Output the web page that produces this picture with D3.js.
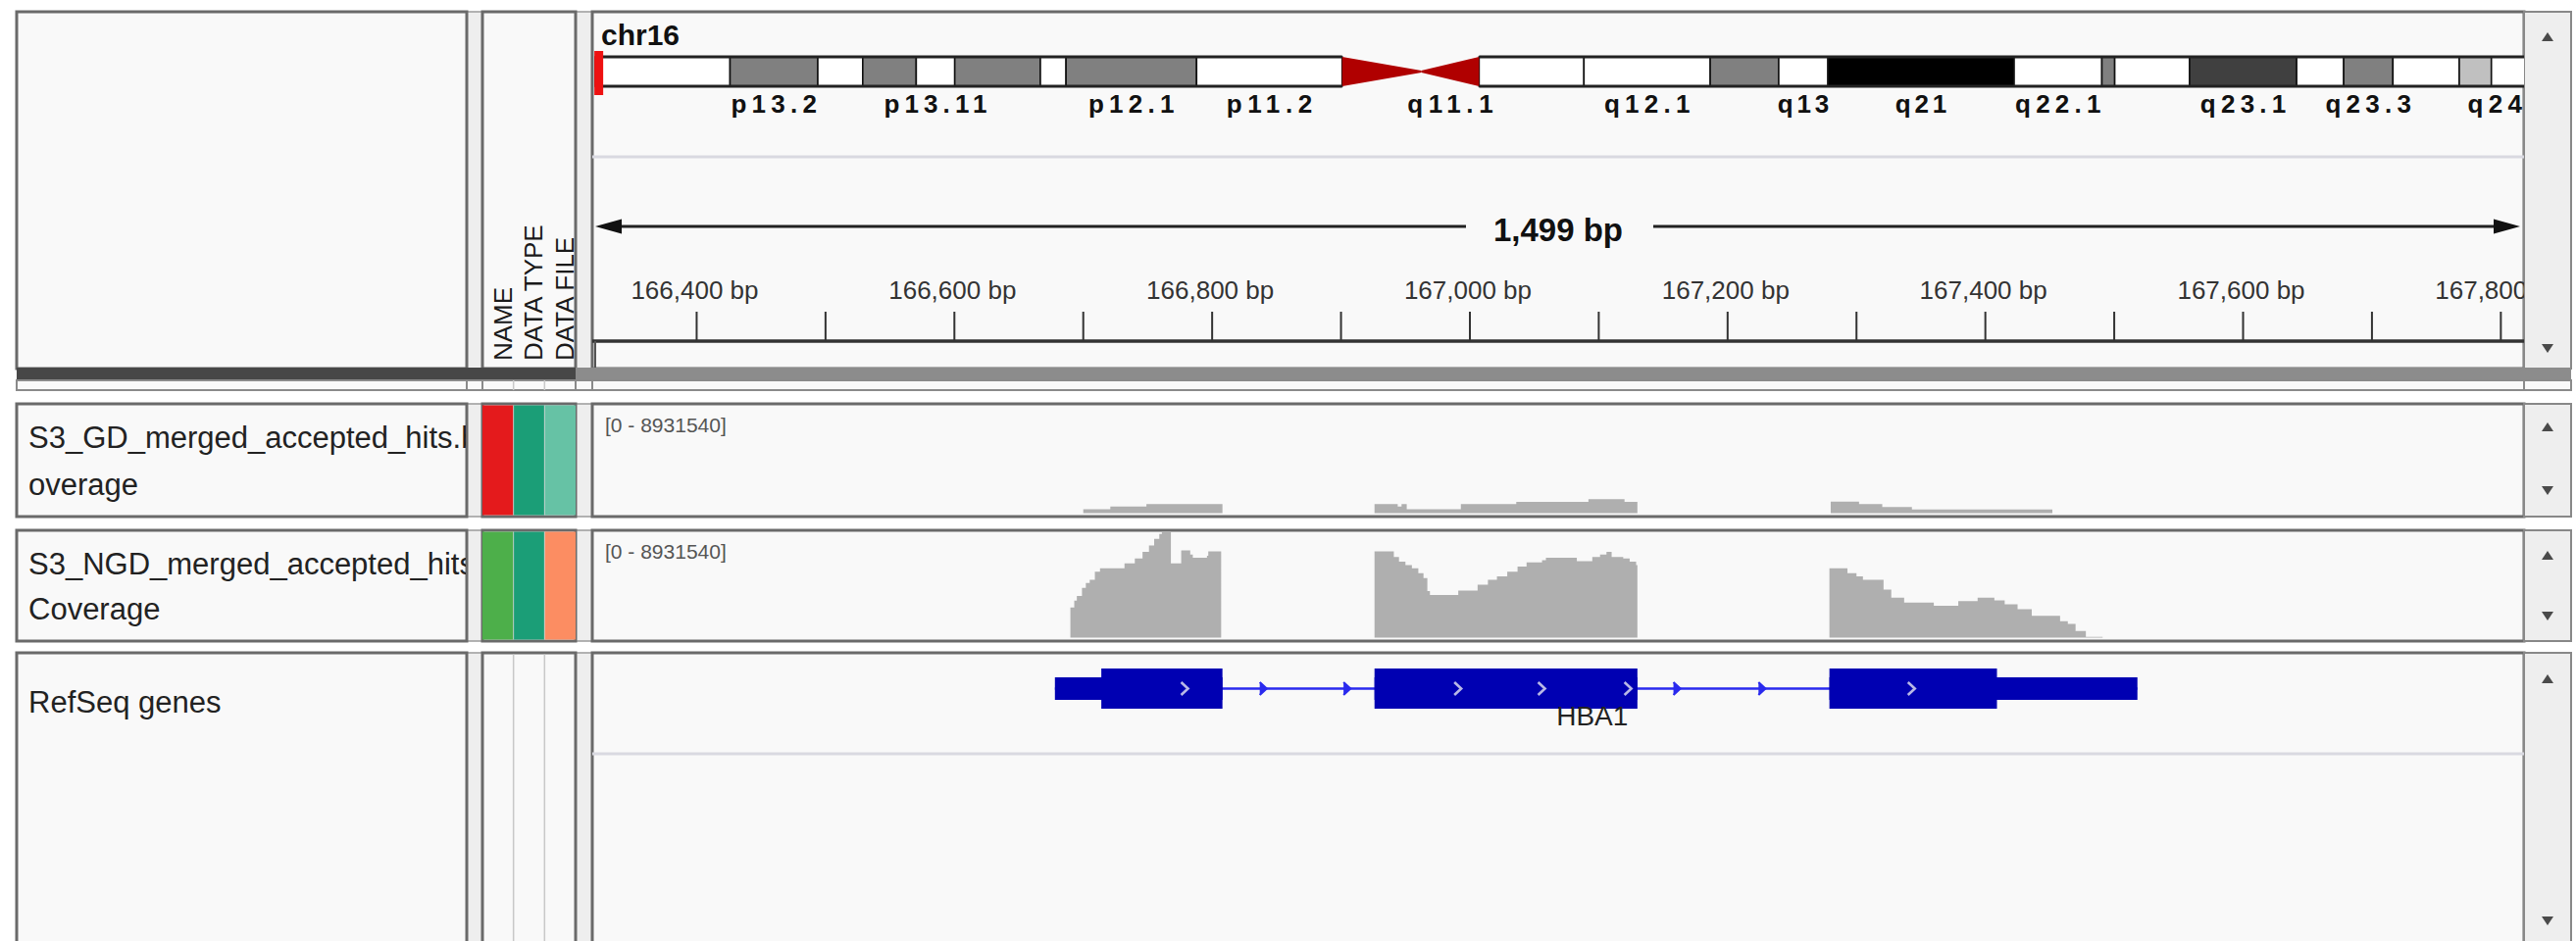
<!DOCTYPE html>
<html>
<head>
<meta charset="utf-8">
<script src="https://cdn.jsdelivr.net/npm/d3@7"></script>
<style>
  body { margin: 0; background: #ffffff; }
  text { font-family: "Liberation Sans", Arial, Helvetica, sans-serif; }
</style>
</head>
<body>
<div id="igv"></div>
<script>
// ---- data ----
const chromName = "chr16";
const chromLength = 90.4; // Mb
const bandNames  = ["p13.3","p13.2","p13.13","p13.12","p13.11","p12.3","p12.2","p12.1","p11.2","p11.1","q11.1","q11.2","q12.1","q12.2","q13","q21","q22.1","q22.2","q22.3","q23.1","q23.2","q23.3","q24.1","q24.2","q24.3"];
const bandStarts = [0, 6.3, 10.4, 12.5, 15.0, 16.8, 20.8, 22.0, 28.1, 34.9, 38.6, 41.3, 46.2, 52.1, 55.3, 57.6, 66.3, 70.4, 71.0, 74.5, 79.5, 81.7, 84.0, 87.1, 88.6];
const bandEnds   = [6.3, 10.4, 12.5, 15.0, 16.8, 20.8, 22.0, 28.1, 34.9, 38.6, 41.3, 46.2, 52.1, 55.3, 57.6, 66.3, 70.4, 71.0, 74.5, 79.5, 81.7, 84.0, 87.1, 88.6, 90.4];
const bandStains = ["gneg","gpos50","gneg","gpos50","gneg","gpos50","gneg","gpos50","gneg","acen","acen","gneg","gneg","gpos50","gneg","gpos100","gneg","gpos50","gneg","gpos75","gneg","gpos50","gneg","gpos25","gneg"];
const labeledBands = ["p13.2","p13.11","p12.1","p11.2","q11.1","q12.1","q13","q21","q22.1","q23.1","q23.3","q24.3"];

const viewStart = 166319, viewEnd = 167818;
const tickStep = 100, labelStep = 200;

const attrHeaders = ["NAME", "DATA TYPE", "DATA FILE"];
const nameLines = [
  ["S3_GD_merged_accepted_hits.bam C", "overage"],
  ["S3_NGD_merged_accepted_hits.bam ", "Coverage"],
  ["RefSeq genes"]
];
const attrColors = [
  ["#e41a1c", "#1b9e77", "#66c2a5"],
  ["#4daf4a", "#1b9e77", "#fc8d62"],
  [null, null, null]
];
const dataMax = 8931540;

// coverage: step positions (bp) and read depth
const gdPos = [166700,166721,166749,166808,166926,166944,166947,166951,166993,167036,167092,167120,167130,167280,167302,167320,167343,167452];
const gdVal = [330000,550000,770000,0,770000,550000,770000,330000,770000,960000,1180000,960000,0,980000,770000,520000,310000,0];

const ngdPos = [166690,166693,166695,166699,166702,166705,166709,166713,166732,166740,166746,166751,166755,166759,166761,166768,166776,166783,166785,166796,166797,166807,
  166926,166941,166945,166950,166955,166960,166964,166967,166969,166991,167006,167014,167021,167029,167037,167044,167056,167059,167083,167095,167101,167106,167110,167119,167124,167129,167130,
  167279,167293,167300,167305,167321,167327,167337,167360,167379,167394,167407,167415,167425,167436,167458,167464,167470,167478,167491];
const ngdVal = [2540000,3120000,3510000,4190000,4610000,4880000,5570000,5850000,6260000,6670000,7230000,7770000,8330000,8740000,8930000,6260000,7360000,7000000,6730000,6900000,7280000,0,
  7280000,6810000,6400000,6120000,5850000,5430000,5020000,3920000,3590000,3970000,4470000,4880000,5160000,5570000,5990000,6340000,6530000,6730000,6450000,6810000,7000000,7230000,6810000,6670000,6400000,6120000,0,
  5850000,5430000,5160000,4880000,4050000,3370000,2950000,2680000,3090000,3370000,3140000,2810000,2400000,1850000,1380000,1160000,550000,60000,0];

// RefSeq gene
const geneName = "HBA1";
const txStart = 166678, txEnd = 167518, cdsStart = 166714, cdsEnd = 167409;
const exonStarts = [166678, 166926, 167279];
const exonEnds   = [166808, 167130, 167518];
const strandArrowsBp = [166779, 166840, 166905, 166991, 167056, 167123, 167161, 167227, 167343];

// ---- layout ----
const W = 2627, H = 960;
const cols = { name: [17, 476], attr: [492, 587], data: [604, 2574], scroll: [2574, 2622] };
const rows = [
  { y0: 12, y1: 376 },
  { y0: 412, y1: 527 },
  { y0: 541, y1: 654 },
  { y0: 666, y1: 975 }
];
const panelFill = "#f9f9f9", borderCol = "#6a6a6a";

const svg = d3.select("#igv").append("svg").attr("width", W).attr("height", H);
svg.append("rect").attr("width", W).attr("height", H).attr("fill", "#ffffff");

const defs = svg.append("defs");
defs.append("clipPath").attr("id", "clipData")
  .append("rect").attr("x", cols.data[0]).attr("y", 0).attr("width", cols.data[1] - cols.data[0]).attr("height", H);
defs.append("clipPath").attr("id", "clipName")
  .append("rect").attr("x", cols.name[0]).attr("y", 0).attr("width", cols.name[1] - cols.name[0] - 1).attr("height", H);

function box(g, x0, x1, y0, y1, fill, stroke, sw) {
  g.append("rect").attr("x", x0).attr("y", y0).attr("width", x1 - x0).attr("height", y1 - y0)
    .attr("fill", fill).attr("stroke", stroke || "none").attr("stroke-width", sw || 0);
}

const frame = svg.append("g");
rows.forEach(function (r) {
  box(frame, cols.name[1], cols.attr[0], r.y0, r.y1, "#eeeeee", "#9a9a9a", 1.5);
  box(frame, cols.attr[1], cols.data[0], r.y0, r.y1, "#eeeeee", "#9a9a9a", 1.5);
  box(frame, cols.name[0], cols.name[1], r.y0, r.y1, panelFill, borderCol, 3);
  box(frame, cols.attr[0], cols.attr[1], r.y0, r.y1, panelFill, borderCol, 3);
  box(frame, cols.data[0], cols.data[1], r.y0, r.y1, panelFill, borderCol, 3);
  box(frame, cols.scroll[0], cols.scroll[1], r.y0, r.y1, "#eeeeee", "#888888", 2);
});
// header splitter band and thin strip under it
box(frame, cols.name[0], cols.attr[1], 375, 388, "#474747");
box(frame, cols.attr[1], cols.scroll[1], 375, 388, "#8c8c8c");
[cols.name, [cols.name[1], cols.attr[0]], cols.attr, [cols.attr[1], cols.data[0]], cols.data, cols.scroll].forEach(function (c) {
  box(frame, c[0], c[1], 388, 398, panelFill, "#8a8a8a", 2);
});

// scroll arrows
const arrows = svg.append("g").attr("fill", "#4a4a4a");
const scx = (cols.scroll[0] + cols.scroll[1]) / 2;
function upTri(y) { arrows.append("path").attr("d", `M${scx - 6},${y + 4}L${scx},${y - 5}L${scx + 6},${y + 4}Z`); }
function downTri(y) { arrows.append("path").attr("d", `M${scx - 6},${y - 4}L${scx},${y + 5}L${scx + 6},${y - 4}Z`); }
upTri(rows[0].y0 + 26); downTri(rows[0].y1 - 21);
upTri(rows[1].y0 + 24); downTri(rows[1].y1 - 27);
upTri(rows[2].y0 + 26); downTri(rows[2].y1 - 26);
upTri(rows[3].y0 + 27); downTri(939);

// ---- attribute panel ----
const attrW = (cols.attr[1] - cols.attr[0]) / attrHeaders.length;
const attrG = svg.append("g");
attrHeaders.forEach(function (h, i) {
  const bx = cols.attr[0] + attrW * (i + 1) - 2;
  attrG.append("text")
    .attr("transform", `translate(${bx},368) rotate(-90)`)
    .attr("font-size", 26).attr("fill", "#1a1a1a")
    .text(h);
});
attrColors.forEach(function (cs, ri) {
  const r = rows[ri + 1];
  cs.forEach(function (c, ci) {
    const x0 = cols.attr[0] + attrW * ci;
    if (c) {
      attrG.append("rect").attr("x", x0).attr("y", r.y0 + 1.5).attr("width", attrW).attr("height", r.y1 - r.y0 - 3).attr("fill", c);
    }
    if (ci > 0) {
      attrG.append("line").attr("x1", x0).attr("x2", x0).attr("y1", r.y0 + 1.5).attr("y2", r.y1 - 1.5)
        .attr("stroke", c ? "#d0d0d0" : "#c8c8c8").attr("stroke-width", c ? 0.8 : 1.5);
    }
  });
});
for (let ci = 1; ci < 3; ci++) {
  attrG.append("line").attr("x1", cols.attr[0] + attrW * ci).attr("x2", cols.attr[0] + attrW * ci)
    .attr("y1", 388).attr("y2", 398).attr("stroke", "#c8c8c8").attr("stroke-width", 1.5);
}

// ---- name panel ----
const nameG = svg.append("g").attr("clip-path", "url(#clipName)");
const nameBase = [[457, 505], [586, 632], [727]];
nameLines.forEach(function (lines, ri) {
  lines.forEach(function (t, li) {
    nameG.append("text").attr("x", 29).attr("y", nameBase[ri][li])
      .attr("font-size", 31).attr("fill", "#222").attr("xml:space", "preserve").text(t);
  });
});

// ---- header: ideogram + ruler ----
const x = d3.scaleLinear().domain([viewStart, viewEnd]).range(cols.data);
const ideoX = d3.scaleLinear().domain([0, chromLength]).range([607, 2580]);
const hdr = svg.append("g").attr("clip-path", "url(#clipData)");

hdr.append("text").attr("x", 613).attr("y", 46).attr("font-size", 30).attr("font-weight", "bold")
  .attr("fill", "#111").text(chromName);

const stainFill = { gneg: "#ffffff", gpos25: "#c0c0c0", gpos50: "#808080", gpos75: "#404040", gpos100: "#000000", acen: "#b00000" };
const iy0 = 58, iy1 = 88, imid = (iy0 + iy1) / 2;
const bands = bandNames.map(function (n, i) { return { name: n, start: bandStarts[i], end: bandEnds[i], stain: bandStains[i] }; });

hdr.selectAll("rect.band").data(bands.filter(d => d.stain !== "acen")).enter()
  .append("rect").attr("class", "band")
  .attr("x", d => ideoX(d.start)).attr("y", iy0)
  .attr("width", d => ideoX(d.end) - ideoX(d.start)).attr("height", iy1 - iy0)
  .attr("fill", d => stainFill[d.stain]).attr("stroke", "#111").attr("stroke-width", 1.6);

bands.filter(d => d.stain === "acen").forEach(function (d) {
  const a = ideoX(d.start), b = ideoX(d.end);
  const pts = d.name.startsWith("p")
    ? [[a, iy0], [b, imid - 1], [b, imid + 1], [a, iy1]]
    : [[b, iy0], [a, imid - 1], [a, imid + 1], [b, iy1]];
  hdr.append("path").attr("d", d3.line()(pts) + "Z").attr("fill", stainFill.acen);
});
// outline top/bottom of the arms
const cenStart = ideoX(bands.find(d => d.stain === "acen").start);
const cenEnd = ideoX(bands.filter(d => d.stain === "acen").pop().end);
[[ideoX(0), cenStart], [cenEnd, ideoX(chromLength)]].forEach(function (arm) {
  [iy0, iy1].forEach(function (yy) {
    hdr.append("line").attr("x1", arm[0]).attr("x2", arm[1]).attr("y1", yy).attr("y2", yy)
      .attr("stroke", "#222").attr("stroke-width", 3);
  });
});
// current-view marker
const viewMb = viewStart / 1e6;
hdr.append("rect").attr("x", ideoX(viewMb) - 4.5).attr("y", 52).attr("width", 9).attr("height", 45).attr("fill", "#ee1111");

hdr.selectAll("text.bandlab").data(bands.filter(d => labeledBands.includes(d.name))).enter()
  .append("text").attr("class", "bandlab")
  .attr("x", d => (ideoX(d.start) + ideoX(d.end)) / 2).attr("y", 115)
  .attr("text-anchor", "middle").attr("font-size", 26).attr("font-weight", "bold").attr("fill", "#111")
  .attr("textLength", d => d.name.length * 17.5).attr("lengthAdjust", "spacing")
  .text(d => d.name);

// light separator under ideogram
hdr.append("line").attr("x1", cols.data[0]).attr("x2", cols.data[1]).attr("y1", 160).attr("y2", 160)
  .attr("stroke", "#d9d9e1").attr("stroke-width", 3);

// span arrow
const spanY = 231;
const mid = (cols.data[0] + cols.data[1]) / 2;
const spanLabel = d3.format(",")(viewEnd - viewStart) + " bp";
hdr.append("text").attr("x", mid).attr("y", spanY + 15).attr("text-anchor", "middle")
  .attr("font-size", 33).attr("font-weight", "bold").attr("fill", "#111").text(spanLabel);
const lx0 = x(viewStart) + 3, lx1 = x(viewEnd) - 4;
hdr.append("line").attr("x1", lx0 + 10).attr("x2", mid - 94).attr("y1", spanY).attr("y2", spanY).attr("stroke", "#222").attr("stroke-width", 3);
hdr.append("line").attr("x1", mid + 97).attr("x2", lx1 - 10).attr("y1", spanY).attr("y2", spanY).attr("stroke", "#222").attr("stroke-width", 3);
hdr.append("path").attr("d", `M${lx0},${spanY}L${lx0 + 27},${spanY - 7.5}L${lx0 + 27},${spanY + 7.5}Z`).attr("fill", "#111");
hdr.append("path").attr("d", `M${lx1},${spanY}L${lx1 - 27},${spanY - 7.5}L${lx1 - 27},${spanY + 7.5}Z`).attr("fill", "#111");

// ruler ticks
const ticks = d3.range(Math.ceil(viewStart / tickStep) * tickStep, viewEnd, tickStep);
hdr.selectAll("line.tick").data(ticks).enter().append("line").attr("class", "tick")
  .attr("x1", d => x(d)).attr("x2", d => x(d)).attr("y1", 318).attr("y2", 347)
  .attr("stroke", "#333").attr("stroke-width", 2);
const fmt = d3.format(",");
hdr.selectAll("text.tlab").data(ticks.filter(d => d % labelStep === 0)).enter().append("text").attr("class", "tlab")
  .attr("x", d => x(d) - 2).attr("y", 305).attr("text-anchor", "middle")
  .attr("font-size", 26).attr("fill", "#333").text(d => fmt(d) + " bp");
hdr.append("line").attr("x1", cols.data[0]).attr("x2", cols.data[1]).attr("y1", 348).attr("y2", 348)
  .attr("stroke", "#333").attr("stroke-width", 3.5);
hdr.append("line").attr("x1", x(viewStart) + 3).attr("x2", x(viewStart) + 3).attr("y1", 348).attr("y2", 375)
  .attr("stroke", "#555").attr("stroke-width", 2);

// ---- coverage tracks ----
const covTracks = [
  { row: rows[1], pos: gdPos, val: gdVal },
  { row: rows[2], pos: ngdPos, val: ngdVal }
];
const dataG = svg.append("g").attr("clip-path", "url(#clipData)");
covTracks.forEach(function (t) {
  const base = t.row.y1 - 3.5;
  const y = d3.scaleLinear().domain([0, dataMax]).range([base, base - 108]);
  const pts = t.pos.map((p, i) => [p, t.val[i]]);
  const area = d3.area().x(d => x(d[0])).y0(base).y1(d => y(d[1])).curve(d3.curveStepAfter);
  dataG.append("path").datum(pts).attr("d", area).attr("fill", "#afafaf");
  dataG.append("text").attr("x", 617).attr("y", t.row.y0 + 29).attr("font-size", 21).attr("fill", "#555")
    .text(`[0 - ${dataMax}]`);
});

// ---- RefSeq gene track ----
const gr = rows[3];
const gy = gr.y0 + 36.5;
dataG.append("line").attr("x1", cols.data[0]).attr("x2", cols.data[1]).attr("y1", gr.y0 + 103).attr("y2", gr.y0 + 103)
  .attr("stroke", "#d9d9e1").attr("stroke-width", 3);
dataG.append("line").attr("x1", x(txStart)).attr("x2", x(txEnd)).attr("y1", gy).attr("y2", gy)
  .attr("stroke", "#2a2aee").attr("stroke-width", 2.5);
const geneBlue = "#0000b2";
exonStarts.forEach(function (s, i) {
  const e = exonEnds[i];
  // UTR parts (thin)
  dataG.append("rect").attr("x", x(s)).attr("width", x(e) - x(s)).attr("y", gy - 11.5).attr("height", 23).attr("fill", geneBlue);
  // coding part (thick)
  const cs = Math.max(s, cdsStart), ce = Math.min(e, cdsEnd);
  if (ce > cs) {
    dataG.append("rect").attr("x", x(cs)).attr("width", x(ce) - x(cs)).attr("y", gy - 20.5).attr("height", 41).attr("fill", geneBlue);
  }
});
const inExon = p => exonStarts.some((s, i) => p >= s && p <= exonEnds[i]);
dataG.selectAll("path.strand").data(strandArrowsBp).enter().append("path").attr("class", "strand")
  .attr("d", d => `M${x(d) - 4},${gy - 6.5}L${x(d) + 3},${gy}L${x(d) - 4},${gy + 6.5}`)
  .attr("fill", d => inExon(d) ? "none" : "#2a2aee")
  .attr("stroke-width", d => inExon(d) ? 2.6 : 2.2)
  .attr("stroke", d => inExon(d) ? "#b8b8e6" : "#2a2aee");
dataG.append("text").attr("x", (x(txStart) + x(txEnd)) / 2 - 4).attr("y", gy + 37.5).attr("text-anchor", "middle")
  .attr("font-size", 28).attr("fill", "#222").text(geneName);
</script>
</body>
</html>
